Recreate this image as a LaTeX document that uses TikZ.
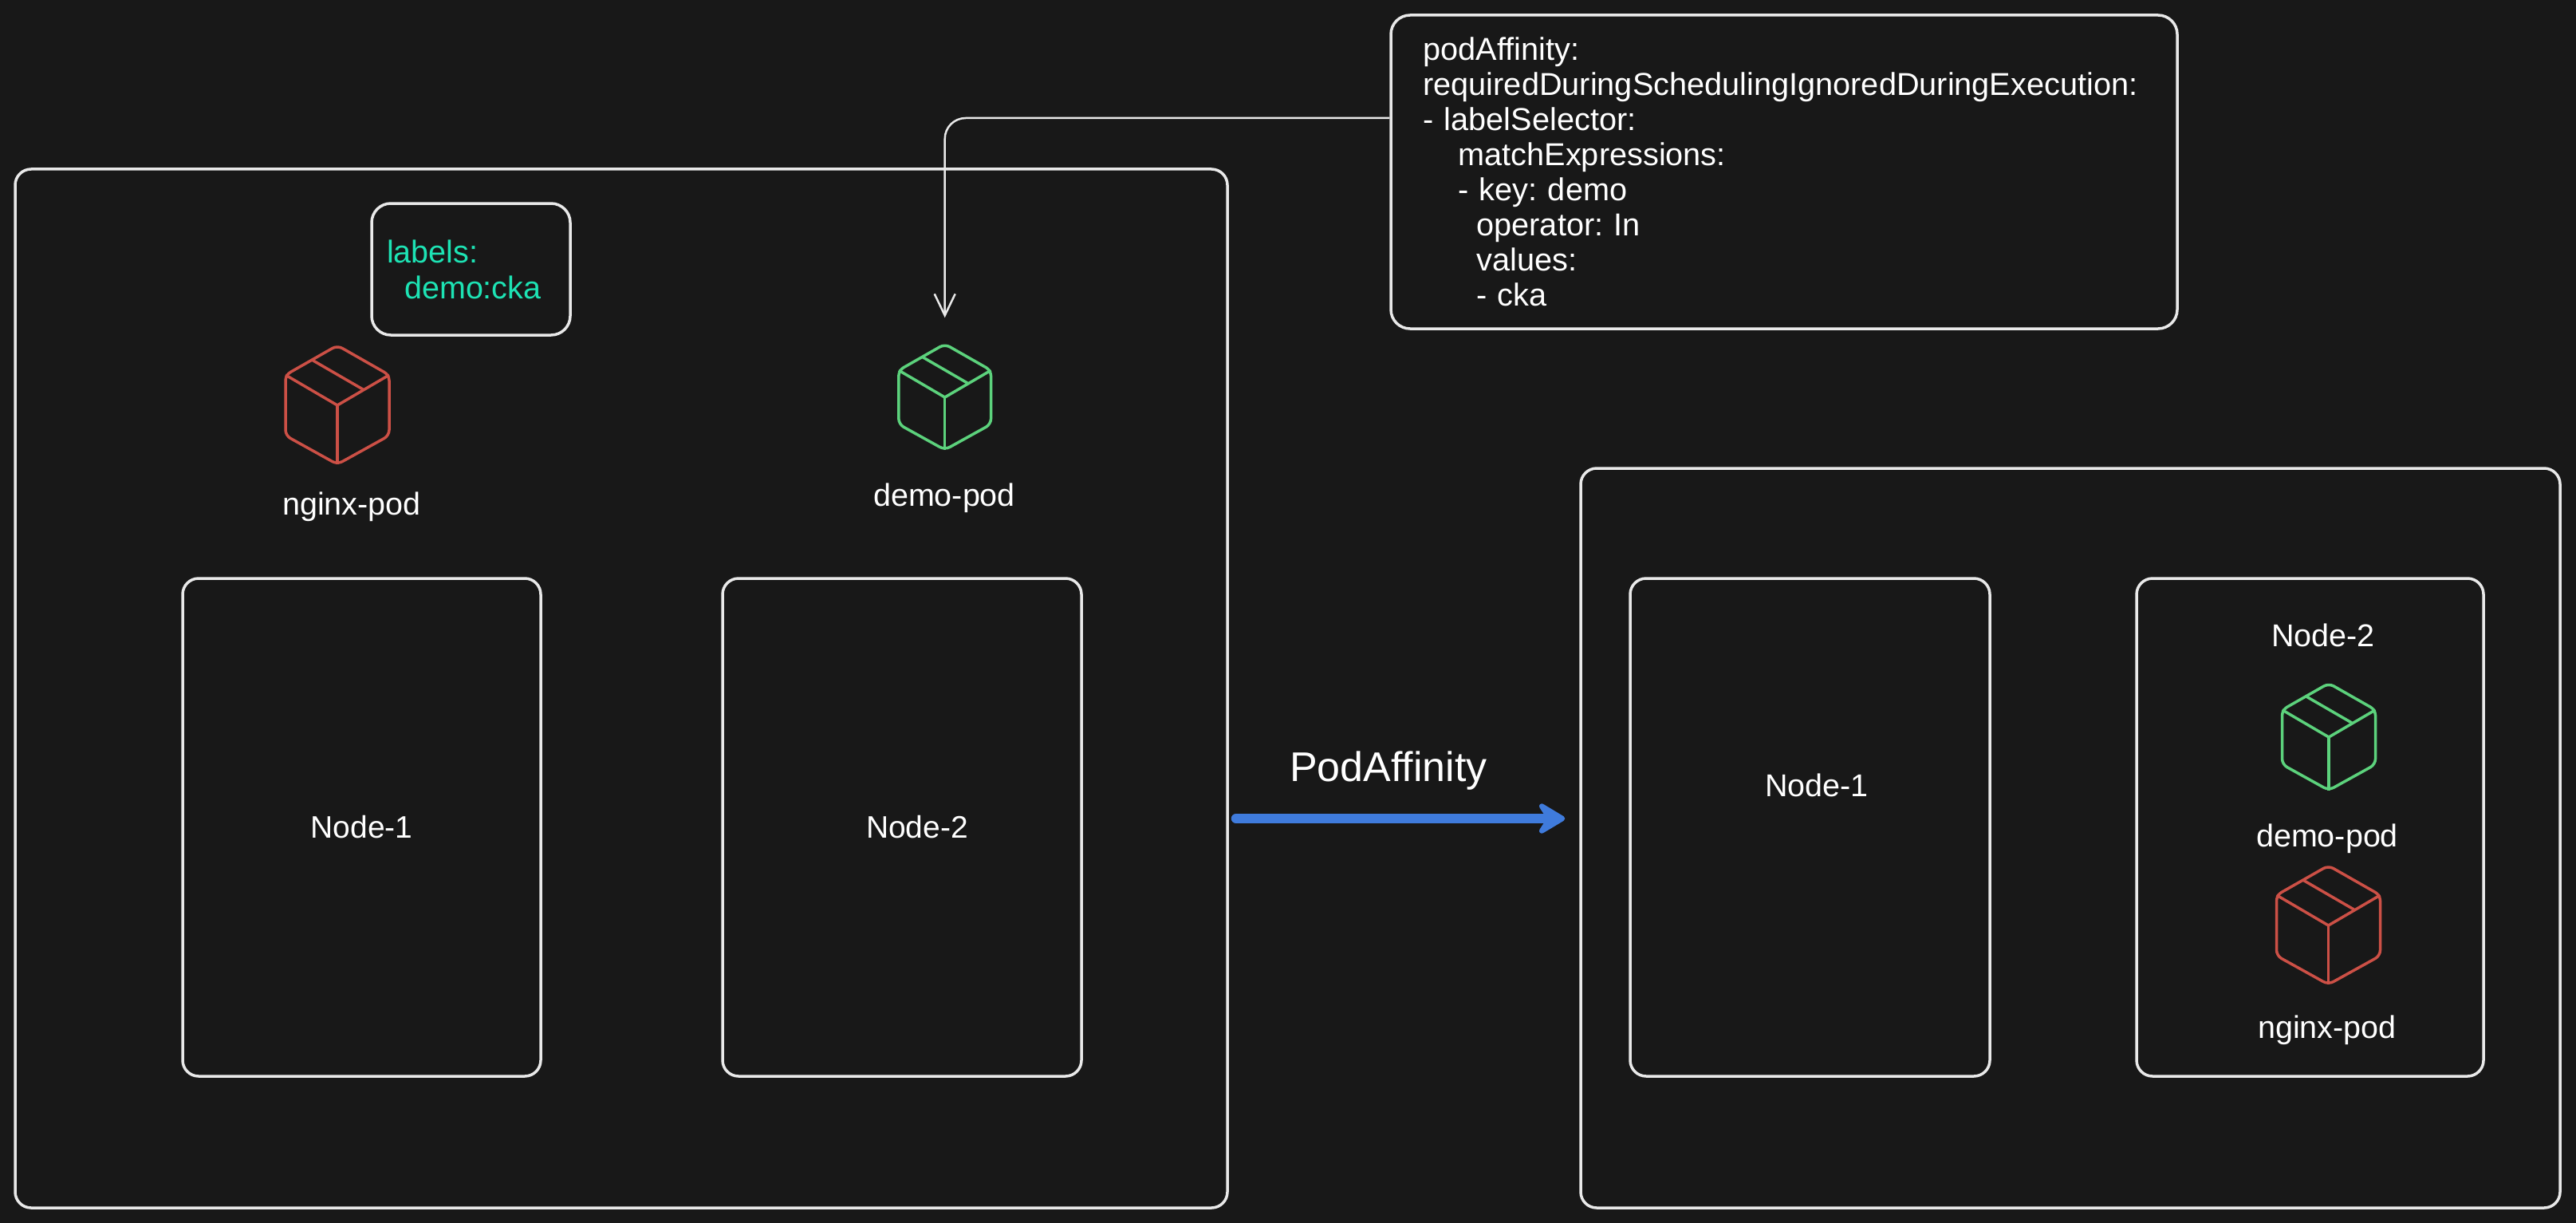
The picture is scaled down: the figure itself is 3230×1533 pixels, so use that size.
\documentclass[tikz,border=0pt]{standalone}
\usepackage{fontspec}
\setmainfont{Liberation Sans}
\usetikzlibrary{arrows.meta}

\definecolor{canvas}{HTML}{181818}
\definecolor{boxline}{HTML}{E9E9E9}
\definecolor{podred}{HTML}{CC5046}
\definecolor{podgreen}{HTML}{5CD27C}
\definecolor{labelteal}{HTML}{1DE3B4}
\definecolor{flowblue}{HTML}{3F7BDC}

\tikzset{
  clusterbox/.style={draw=boxline,line width=3.5pt,rounded corners=20pt,inner sep=0pt,text=white,font=\fontsize{39}{44}\selectfont},
  podtext/.style={text=white,anchor=base,inner sep=0pt,font=\fontsize{39.5}{44}\selectfont},
  podbox/.pic={
    \draw[pic actions,rounded corners=7pt] (0,-75) -- (65,-38) -- (65,38) -- (0,74) -- (-65,38) -- (-65,-38) -- cycle;
    \draw[pic actions] (-65,-38) -- (0,0) -- (65,-38);
    \draw[pic actions] (0,0) -- (0,74);
    \draw[pic actions] (-32,-57) -- (32,-20);
    \coordinate (-top) at (0,-75);
  }
}

\begin{document}
\frenchspacing
\begin{tikzpicture}[x=1pt,y=-1pt]

      \fill[canvas] (0,0) rectangle (3230,1533);
      \useasboundingbox (0,0) rectangle (3230,1533);

      \begin{scope}[every node/.style={clusterbox}]
        \node[minimum width=1520pt,minimum height=1302pt] (leftcluster)  at (779,863)    {};
        \node[minimum width=1228pt,minimum height=927pt]  (rightcluster) at (2596,1050.5) {};
        \node[minimum width=449pt,minimum height=624pt]   (node1)  at (453.5,1037) {Node-1};
        \node[minimum width=450pt,minimum height=624pt]   (node2)  at (1131,1037)  {\hspace*{38pt}Node-2};
        \node[minimum width=451pt,minimum height=624pt]   (node3)  at (2269.5,1037) {};
        \node[minimum width=435pt,minimum height=624pt]   (node4)  at (2896.5,1037) {};
      \end{scope}

      \node[podtext] (node3text) at (2278,998)  {Node-1};
      \node[podtext] (node4text) at (2913,810)  {Node-2};

      \node[clusterbox,rounded corners=24pt,minimum width=249pt,minimum height=165pt] (labels) at (590.5,337.5) {};
      \node[text=labelteal,align=left,inner sep=0pt,font=\fontsize{39.5}{45}\selectfont,anchor=north west] (labelstext) at (485,301)
        {labels:\\\hspace*{22pt}demo:cka};

      \node[clusterbox,rounded corners=24pt,minimum width=986pt,minimum height=393pt,text width=905pt,inner xsep=40.5pt,align=left,font=\fontsize{39.7}{44}\selectfont] (code) at (2237,215.5)
        {podAffinity:\\
         requiredDuringSchedulingIgnoredDuringExecution:\\
         - labelSelector:\\
         \hspace*{44pt}matchExpressions:\\
         \hspace*{44pt}- key: demo\\
         \hspace*{67pt}operator: In\\
         \hspace*{67pt}values:\\
         \hspace*{67pt}- cka};

      \pic[draw=podred,line width=3.5pt,scale=1]      (redleft)   at (423,508)    {podbox};
      \pic[draw=podgreen,line width=3.5pt,scale=.89]  (greenleft) at (1184.7,498) {podbox};
      \pic[draw=podgreen,line width=3.5pt,scale=.9]   (greenright) at (2920,924)  {podbox};
      \pic[draw=podred,line width=3.5pt,scale=1]      (redright)  at (2919.5,1160) {podbox};

      \node[podtext] (nginxleft)  at (441,645)   {nginx-pod};
      \node[podtext] (demoleft)   at (1184,634)  {demo-pod};
      \node[podtext] (demoright)  at (2918,1061) {demo-pod};
      \node[podtext] (nginxright) at (2918,1301) {nginx-pod};
      \node[text=white,anchor=base,inner sep=0pt,font=\fontsize{52}{56}\selectfont] (affinity) at (1741,979) {PodAffinity};

      \draw[boxline,line width=2.5pt,rounded corners=26pt,-{Straight Barb[length=27pt,width=26pt]}]
        ([yshift=67.5pt]code.west) -| ([yshift=33pt]greenleft-top);

      \draw[flowblue,line width=12pt,line cap=round,shorten >=18pt,-{Stealth[length=42pt,width=50pt,inset=16pt,round]}]
        ([yshift=-163pt,xshift=9pt]leftcluster.east) -- ([yshift=24.5pt]rightcluster.west);

    \end{tikzpicture}
\end{document}
